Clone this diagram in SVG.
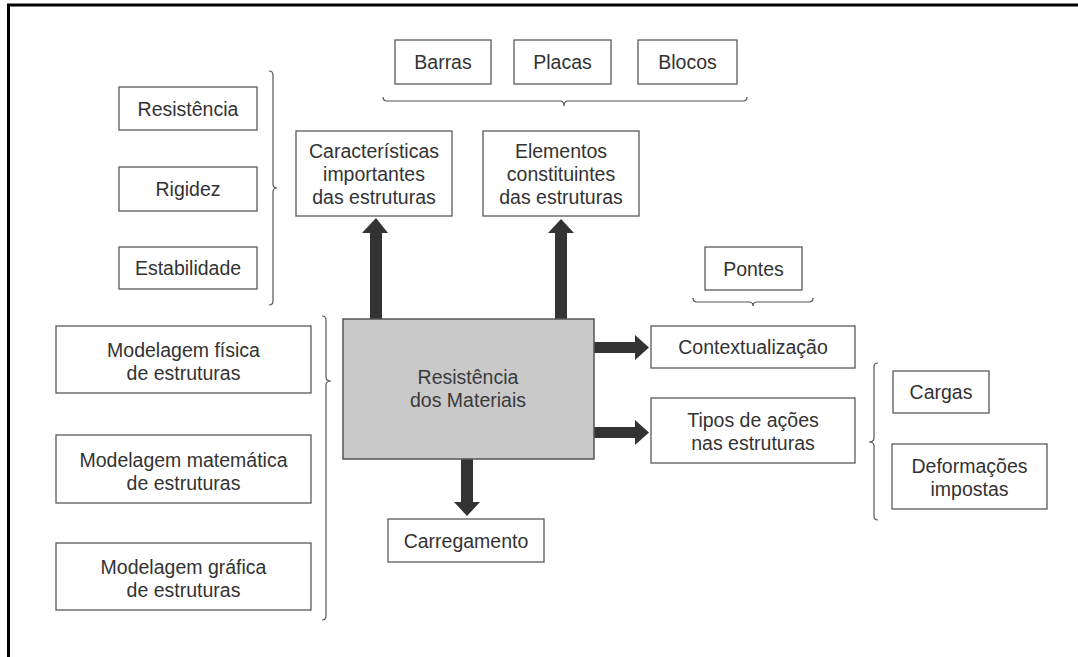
<svg xmlns="http://www.w3.org/2000/svg" width="1078" height="657" viewBox="0 0 1078 657">
<style>
.box{fill:#fff;stroke:#5a5a5a;stroke-width:1.3}
.main{fill:#c9c9ca;stroke:#555;stroke-width:1.5}
.t{font-family:"Liberation Sans",Arial,sans-serif;font-size:19.5px;fill:#333;text-anchor:middle}
.brace{fill:none;stroke:#555;stroke-width:1.2}
.arrow{fill:#333;stroke:none}
.frame{stroke:#000;stroke-width:3;fill:none}
</style>
<rect width="1078" height="657" fill="#fff"/>
<path class="frame" d="M8.5 657 V5 H1078"/>

<g id="braces">
<path class="brace" d="M269 71 Q273 71 273 75 L273 184 Q273 188 277 188 Q273 188 273 192 L273 301 Q273 305 269 305"/>
<path class="brace" d="M322 316 Q326 316 326 320 L326 377 Q326 381 331 381 Q326 381 326 385 L326 616 Q326 620 322 620"/>
<path class="brace" d="M383 97 Q383 101 387 101 L560 101 Q564 101 564 106 Q564 101 568 101 L743 101 Q747 101 747 97"/>
<path class="brace" d="M693 298 Q693 302 697 302 L749 302 Q753 302 753 306 Q753 302 757 302 L809 302 Q813 302 813 298"/>
<path class="brace" d="M878 363 Q874 363 874 367 L874 438 Q874 442 869 442 Q874 442 874 446 L874 516 Q874 520 878 520"/>
</g>

<g id="connectors">
<path class="arrow" d="M370 321 V233 H362 L376 218 L388 233 H382 V321 Z"/>
<path class="arrow" d="M555 321 V233 H548 L561 219 L574 233 H567 V321 Z"/>
<path class="arrow" d="M593 342 H635 V335 L649 347.5 L635 360 V353 H593 Z"/>
<path class="arrow" d="M593 427 H635 V420 L649 432.5 L635 445 V438 H593 Z"/>
<path class="arrow" d="M461 458 V502 H454 L467 516 L480 502 H473 V458 Z"/>
</g>

<g id="n-resistencia"><rect class="box" x="119" y="87" width="138" height="43"/><text class="t" x="188" y="115.5">Resistência</text></g>
<g id="n-rigidez"><rect class="box" x="119" y="167" width="138" height="44"/><text class="t" x="188" y="196">Rigidez</text></g>
<g id="n-estabilidade"><rect class="box" x="119" y="247" width="138" height="42"/><text class="t" x="188" y="275">Estabilidade</text></g>

<g id="n-barras"><rect class="box" x="395" y="40" width="96" height="44"/><text class="t" x="443" y="69">Barras</text></g>
<g id="n-placas"><rect class="box" x="514" y="40" width="97" height="44"/><text class="t" x="562.5" y="69">Placas</text></g>
<g id="n-blocos"><rect class="box" x="638" y="40" width="99" height="44"/><text class="t" x="687.5" y="69">Blocos</text></g>

<g id="n-caracteristicas"><rect class="box" x="296" y="131" width="156" height="85"/>
<text class="t" x="374" y="157.5">Características</text><text class="t" x="374" y="180.5">importantes</text><text class="t" x="374" y="203.5">das estruturas</text></g>
<g id="n-elementos"><rect class="box" x="483" y="131" width="156" height="85"/>
<text class="t" x="561" y="157.5">Elementos</text><text class="t" x="561" y="180.5">constituintes</text><text class="t" x="561" y="203.5">das estruturas</text></g>

<g id="n-fisica"><rect class="box" x="56" y="326" width="255" height="67"/>
<text class="t" x="183.5" y="357">Modelagem física</text><text class="t" x="183.5" y="380">de estruturas</text></g>
<g id="n-matematica"><rect class="box" x="56" y="435" width="255" height="68"/>
<text class="t" x="183.5" y="466.5">Modelagem matemática</text><text class="t" x="183.5" y="489.5">de estruturas</text></g>
<g id="n-grafica"><rect class="box" x="56" y="543" width="255" height="67"/>
<text class="t" x="183.5" y="574">Modelagem gráfica</text><text class="t" x="183.5" y="597">de estruturas</text></g>

<g id="n-main"><rect class="main" x="343" y="319" width="251" height="140"/>
<text class="t" x="468" y="384" style="fill:#3a3a3a">Resistência</text><text class="t" x="468" y="407" style="fill:#3a3a3a">dos Materiais</text></g>

<g id="n-carregamento"><rect class="box" x="388" y="519" width="156" height="43"/><text class="t" x="466" y="547.5">Carregamento</text></g>

<g id="n-pontes"><rect class="box" x="705" y="247" width="97" height="43"/><text class="t" x="753.5" y="275.5">Pontes</text></g>
<g id="n-contextualizacao"><rect class="box" x="651" y="326" width="204" height="42"/><text class="t" x="753" y="354">Contextualização</text></g>
<g id="n-tipos"><rect class="box" x="651" y="398" width="204" height="65"/>
<text class="t" x="753" y="426.5">Tipos de ações</text><text class="t" x="753" y="449.5">nas estruturas</text></g>

<g id="n-cargas"><rect class="box" x="893" y="371" width="96" height="42"/><text class="t" x="941" y="399">Cargas</text></g>
<g id="n-deformacoes"><rect class="box" x="892" y="444" width="155" height="65"/>
<text class="t" x="969.5" y="472.5">Deformações</text><text class="t" x="969.5" y="495.5">impostas</text></g>
</svg>
